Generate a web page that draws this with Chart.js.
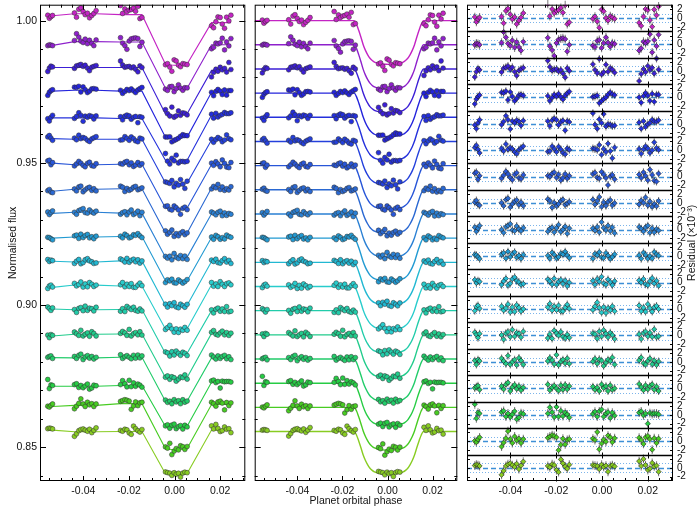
<!DOCTYPE html>
<html lang="en">
<head>
<meta charset="UTF-8">
<title>Spectroscopic transit light curves</title>
<script src="https://cdn.jsdelivr.net/npm/chart.js"></script>
<style>
  * { margin: 0; padding: 0; box-sizing: border-box; }
  body { background: #fff; width: 698px; height: 508px; position: relative; overflow: hidden; }
  canvas { position: absolute; top: 0; }
  #lcRaw { left: 0; }
  #lcFit { left: 250px; }
  #lcRes { left: 462px; }
</style>
</head>
<body>
<canvas id="lcRaw" width="250" height="508"></canvas>
<canvas id="lcFit" width="212" height="508"></canvas>
<canvas id="lcRes" width="236" height="508"></canvas>
<script>
// ---- data ----
// orbital phase of each exposure (5 HST orbits)
const phase = [
  -0.0556, -0.0549, -0.0542, -0.0535,
  -0.0439, -0.0430, -0.0420, -0.0411, -0.0401, -0.0392, -0.0382, -0.0373, -0.0363, -0.0354, -0.0344,
  -0.0237, -0.0228, -0.0218, -0.0209, -0.0199, -0.0190, -0.0180, -0.0171, -0.0161, -0.0152, -0.0143,
  -0.0040, -0.0031, -0.0021, -0.0012, -0.0002, 0.0007, 0.0017, 0.0026, 0.0036, 0.0045, 0.0055,
  0.0162, 0.0171, 0.0181, 0.0190, 0.0200, 0.0209, 0.0219, 0.0228, 0.0238, 0.0247
];
const orbitSizes = [4, 11, 11, 11, 10];

// light curve offsets (out-of-transit level of each wavelength bin)
const baseline = [1.0000, 0.9915, 0.9830, 0.9745, 0.9660, 0.9575, 0.9490, 0.9405, 0.9320,
                  0.9235, 0.9150, 0.9065, 0.8980, 0.8895, 0.8810, 0.8725, 0.8640, 0.8555];
// transit depth of each bin (x1e-3)
const depth = [15.4, 15.7, 15.4, 15.3, 15.2, 15.2, 15.3, 15.4, 15.2,
               15.1, 15.0, 15.1, 15.0, 15.1, 15.0, 15.0, 15.1, 15.0];
const lineColors = ['#c424c4', '#8e20cc', '#3c1fd6', '#2424dc', '#2430dc', '#2440dc', '#2856d8', '#2a68d2', '#2a80d4',
                    '#229ad2', '#22b8d2', '#28cccc', '#22ccaa', '#22cc8c', '#22cc6a', '#26cc44', '#48cc22', '#88cc22'];

// transit profile (fraction of depth)
const modelPhase = [-0.0590, -0.0148, -0.0138, -0.0128, -0.0118, -0.0108, -0.0098, -0.0088, -0.0078,
                    -0.0068, -0.0058, -0.0044, -0.0024, 0.0006, 0.0036, 0.0056, 0.0070, 0.0080,
                    0.0090, 0.0100, 0.0110, 0.0120, 0.0130, 0.0140, 0.0150, 0.0160, 0.0310];
const modelShape = [0, 0, 0.08, 0.22, 0.38, 0.55, 0.68, 0.78, 0.86,
                    0.91, 0.945, 0.97, 0.99, 1.0, 0.99, 0.97, 0.945, 0.91,
                    0.86, 0.78, 0.68, 0.55, 0.38, 0.22, 0.08, 0, 0];
// profile value at each exposure
const shapeAtData = [
  0, 0, 0, 0,
  0, 0, 0, 0, 0, 0, 0, 0, 0, 0, 0,
  0, 0, 0, 0, 0, 0, 0, 0, 0, 0, 0,
  0.975, 0.983, 0.990, 0.995, 0.999, 1.0, 0.998, 0.994, 0.988, 0.980, 0.972,
  0, 0, 0, 0, 0, 0, 0, 0, 0, 0
];

// instrument systematics per orbit for each bin (x1e-3), left panel
const orbitShift = [
  [1.7, 2.4, 2.1, -0.3, -0.7],
  [-0.2, 1.1, 1.0, 0.0, 0.0],
  [0.5, 0.5, 0.5, -0.8, -0.5],
  [0.7, 1.0, 0.7, -0.6, 0.3],
  [-0.2, -0.2, -0.4, -0.3, 0.8],
  [1.0, 0.8, 0.8, 0.2, 0.5],
  [0.9, 0.3, 0.5, 0.0, 0.4],
  [-0.5, 0.2, 0.4, -0.2, 0.6],
  [0.2, 0.6, 0.3, -0.4, 0.1],
  [0.0, 0.4, 0.6, -0.3, 0.2],
  [0.4, 0.1, 0.5, -0.5, 0.3],
  [-0.3, 0.5, 0.2, -0.2, 0.6],
  [0.6, 0.3, 0.4, -0.4, 0.0],
  [-0.4, 0.2, 0.3, -0.3, 0.5],
  [0.5, 0.4, 0.6, -0.2, 0.4],
  [-1.1, -1.1, -0.8, -0.6, 0.3],
  [0.3, 0.7, 1.3, 0.2, 1.0],
  [0.5, -0.1, 0.0, -0.2, 0.5]
];

// residuals (x1e-3), right panel
const resid = [
  [0.2, -0.9, -0.3, 0.1, 0.3, -1.2, 1.6, 2.1, 0.8, -0.3, 0.2, -1.4, -0.6, 0.1, 1.1, 3.2, 0.4, 2.0, 1.1, 1.6, 1.8, 2.3, 1.2, 2.9, -1.4, -1.0, -0.2, 0.3, -0.8, -2.2, 1.9, 1.5, 0.0, -0.6, 0.4, 0.1, -0.2, -1.1, -1.8, 0.3, 2.0, 1.8, -0.5, -2.0, 1.9, 0.6, 2.6],
  [-0.1, 0.2, 0.1, -0.1, 0.4, 2.8, 1.6, 0.2, -0.3, 0.9, -0.7, 0.5, -0.6, -1.4, 0.6, 1.5, -0.4, -1.3, -2.6, 0.3, 1.1, 1.3, 1.4, 1.2, -1.6, -0.1, -0.3, -0.6, 0.8, 1.0, -0.8, 0.3, 1.6, 0.4, -0.5, 0.3, 0.1, -1.4, -0.9, 0.6, 0.3, 0.7, 2.3, -1.8, 1.0, -0.4, 2.2],
  [-1.4, -0.2, 0.5, 0.2, -0.3, 0.6, 0.8, 1.1, 0.4, 0.8, -0.2, -1.1, 0.1, 0.4, 0.7, 2.3, 0.9, 0.1, 0.3, 0.4, -0.1, 0.2, -0.6, -1.5, 0.6, 0.0, 1.5, 0.2, -0.5, 2.7, -0.8, -0.3, 1.4, -0.2, 0.6, 0.3, -0.4, -2.3, -0.7, 0.4, -0.3, 1.1, 0.2, 0.7, -0.6, 2.8, 0.3],
  [-1.5, -0.4, 0.2, 0.5, 1.1, 1.0, 1.4, -0.6, 1.2, 0.2, -0.8, -0.3, 0.5, 0.6, 0.4, 0.3, -0.8, -0.1, 0.6, 0.2, 0.8, 0.1, -0.5, 0.4, 0.9, 1.3, 0.1, 0.2, 0.4, -1.3, -0.8, -0.4, 0.0, 0.6, 1.1, 0.7, 0.5, 0.0, -1.2, 0.3, 1.0, 0.4, -0.8, 0.8, -1.0, 0.6, 0.6],
  [-0.3, -1.1, 0.2, 0.9, -0.2, 0.5, 1.8, 0.9, -1.2, 0.6, 0.2, 0.8, 0.5, -0.4, 0.7, 0.6, -0.5, 0.8, 1.2, 0.9, -0.3, 0.4, 0.7, -1.5, 0.6, 0.4, 2.4, -0.2, -1.1, 1.0, 0.2, 2.2, -0.6, -0.1, -0.2, -0.5, -0.4, 0.3, -1.1, 0.6, -0.7, -0.1, 0.2, 0.9, 0.5, 0.5, 0.8],
  [0.6, 1.1, 0.2, -0.6, 0.4, -0.2, 1.4, 0.2, 0.6, 0.3, -0.4, -0.8, 0.1, 0.5, 0.9, -0.3, -0.2, 0.9, 0.3, -0.4, 0.8, 0.2, -0.6, -0.9, 0.4, 0.1, 0.4, 0.3, 0.1, 1.2, -1.0, 0.3, -0.4, 1.5, -0.2, -1.8, 0.6, 0.3, -0.8, 0.2, 0.9, 0.4, -0.6, 0.0, 1.8, 0.5, 0.1],
  [0.8, 1.0, -0.6, 0.2, -0.4, 0.3, 1.2, 0.6, -0.2, -0.7, 0.5, 0.9, -0.3, -0.5, 0.4, 0.2, 0.0, 0.7, 1.0, -0.2, 0.5, -0.8, -0.3, 0.6, -0.4, 0.2, 0.6, 0.9, -0.2, -0.4, 1.1, 0.5, -0.3, -1.9, 0.1, 0.4, -0.6, 0.5, -0.3, 1.0, 0.2, -0.8, 1.6, 0.4, -0.9, -1.1, 0.7],
  [0.2, 0.6, -0.3, -0.5, 0.1, -0.6, 0.8, 1.1, -0.9, -0.2, 0.4, 0.7, -0.4, 0.2, -0.6, 0.9, 0.5, -1.0, 0.1, -0.6, -0.2, 0.5, 0.8, -0.4, -0.1, 0.3, 0.8, -0.3, 0.5, 1.4, -0.8, 0.2, -0.6, 0.3, 0.7, -0.5, 0.0, -0.3, 0.6, 0.1, 1.3, -0.5, 0.4, -0.8, -0.2, -0.7, 0.5],
  [0.5, -0.4, 0.3, 0.9, 0.0, -0.7, 0.6, 0.9, 1.3, -0.1, -0.3, 0.8, 0.1, -0.3, 0.4, -0.4, 0.2, 0.5, -0.6, 0.4, 1.1, -0.5, 0.0, 0.7, -0.9, 0.3, 0.3, -0.2, 0.6, -0.6, 1.7, 0.4, -0.1, 0.9, -0.3, 0.5, -0.8, 0.6, 0.2, -0.4, 0.5, 0.9, -0.7, 0.3, -0.6, 0.1, -0.2],
  [0.3, 0.2, -0.2, -0.6, 0.4, 0.7, -0.5, 1.0, -0.2, 0.5, 0.9, -0.3, 0.1, -0.6, 0.3, 0.1, -0.5, 0.8, 0.3, -0.5, -0.2, 0.6, 0.4, 1.0, 0.2, -0.4, -0.6, 0.5, 0.2, 0.9, -0.3, -0.4, 0.7, 0.1, -0.6, -0.2, 0.4, 0.2, -0.6, 0.8, 0.3, -0.6, 0.0, -0.5, 0.9, 0.4, 0.1],
  [0.6, -0.1, 0.4, 0.2, -0.5, 0.3, 0.9, -0.6, -0.2, 0.8, 1.2, 0.4, 0.1, -0.5, -0.3, 0.7, 0.3, -0.4, 0.9, -0.5, 0.2, 0.6, -0.3, 0.4, -0.8, 0.0, 0.4, -0.5, 0.8, 0.2, 1.3, -0.2, -0.5, 0.7, 0.1, -0.6, 0.3, 0.5, 0.0, 0.8, -0.4, -0.6, 0.3, 1.0, -0.2, 0.4, -0.7],
  [-0.4, 0.5, 0.8, 0.1, 0.6, -0.3, 0.2, 1.1, -0.7, 0.4, -0.6, 0.9, 0.3, -0.5, 0.0, 0.4, 1.2, -0.3, 0.6, -0.2, 0.8, -0.5, -0.5, 0.3, 1.0, 0.1, -0.2, 0.6, 1.5, 0.3, -0.8, 0.4, -0.9, 0.2, -0.3, 0.6, -0.5, 0.8, -0.5, 0.3, -0.6, 1.1, 0.2, -0.6, 0.4, 0.7, 0.0],
  [0.7, 0.2, -0.5, 0.4, 0.1, -0.9, 0.5, 0.8, -0.3, 1.3, -0.2, 0.6, 0.4, -0.4, 0.9, -0.6, 0.3, -0.7, 1.1, 0.5, 0.0, 0.8, -0.3, -0.6, 0.2, -0.5, 0.5, 0.3, -0.7, 0.9, -0.2, 1.2, 0.4, -0.4, 0.6, 0.1, -0.8, 0.3, -0.8, 0.5, 0.9, -0.2, 0.6, -0.3, 1.4, -0.4, -0.2],
  [0.3, -0.6, 0.5, 0.2, 0.8, 0.2, -0.4, 1.4, -0.6, 0.0, 0.5, -0.7, 0.9, 0.3, -0.6, 0.2, 0.9, 0.4, -0.5, 1.6, -0.7, 0.1, 0.5, -0.3, 0.8, -0.4, 0.1, 0.7, -0.4, 0.6, 0.3, -0.9, -0.2, 0.5, 0.2, 1.0, -0.6, 0.4, 1.0, -0.3, -0.6, 0.2, 0.8, -0.5, 0.3, -0.7, 0.1],
  [0.1, 0.4, 0.6, -0.3, 0.5, -0.2, 0.9, 1.3, -0.6, 0.3, 0.8, -0.1, 0.5, -0.4, 0.2, 0.9, -0.4, 0.2, 0.6, 0.0, -0.5, 0.7, -0.3, 0.8, -0.2, 0.5, 0.4, -0.3, 0.2, -0.6, 0.9, 0.1, 0.5, -0.6, 0.7, -0.3, 0.0, 1.0, 0.3, -0.4, 0.7, -0.2, 0.5, 0.9, -0.3, 0.4, -0.6],
  [2.4, -0.8, 0.5, 0.3, 0.6, 0.9, -0.4, 0.3, -0.5, 0.1, 0.8, -1.0, -0.6, 0.4, 0.2, 0.3, 1.7, 0.6, -0.5, 1.8, -0.4, 0.9, -0.3, 0.5, 0.1, -0.6, 0.2, 0.7, -0.4, 0.8, 1.2, -0.4, 0.3, 0.6, -0.7, 0.5, -0.2, 0.5, 0.8, -0.1, 0.3, -2.0, 0.4, 0.2, 0.3, 0.3, 0.1],
  [0.1, -0.2, 0.4, 0.9, -1.2, -0.3, 0.7, 2.3, 0.5, -0.4, 1.1, 0.2, 0.6, -0.4, 0.5, 0.8, 1.1, 1.4, 1.2, 0.9, -2.0, -0.8, 0.6, -0.7, 0.3, 0.5, 0.6, 0.3, 2.1, -1.8, -0.5, 0.4, -0.1, 1.3, 0.9, -0.2, 0.7, 0.8, 0.3, -0.6, 0.9, 1.2, 0.5, -1.9, 0.7, -0.4, 0.6],
  [0.5, 0.7, 0.6, 0.4, -1.6, -0.7, 0.4, 0.8, 1.0, 0.6, 0.2, 0.9, -0.3, 0.5, 1.4, 0.4, 0.1, 0.8, 0.6, -0.5, -1.0, 1.9, 1.0, 0.3, -0.2, 0.7, 0.6, 0.5, 0.4, -0.3, 0.7, 0.2, 0.5, -0.9, 0.4, 0.6, 0.3, 1.5, 0.4, 2.0, 0.6, -0.5, -0.2, 1.1, 0.3, 0.5, -0.9]
];
// residual error bar (x1e-3) per bin
const residErr = [1.0, 1.0, 0.9, 0.9, 0.9, 0.9, 0.9, 0.9, 0.9, 0.9, 0.9, 0.9, 0.9, 0.9, 0.9, 1.0, 1.0, 1.0];

const fluxTicks = [0.85, 0.90, 0.95, 1.00];
const phaseTicks = [-0.04, -0.02, 0.00, 0.02];
const residTicks = [-2, 0, 2];

// ---- layout constants ----
const PHASE_MIN = -0.059, PHASE_MAX = 0.031;
const FLUX_MIN = 0.8381, FLUX_MAX = 1.0056;
const SPAN = 6;                  // residual units per sub-panel
const NBIN = baseline.length;
Chart.defaults.font.family = '"Liberation Sans", Arial, sans-serif';
Chart.defaults.font.size = 10.5;
Chart.defaults.color = '#111';

const orbitIdx = [];
orbitSizes.forEach((n, o) => { for (let i = 0; i < n; i++) orbitIdx.push(o); });

const rawSets = [], fitSets = [], resSets = [];
baseline.forEach((b, k) => {
  const col = lineColors[k];
  const model = phase.map((p, i) => b - depth[k] / 1000 * shapeAtData[i]);
  const detr = phase.map((p, i) => model[i] + resid[k][i] / 1000);
  const sys = phase.map((p, i) => orbitShift[k][orbitIdx[i]] / 1000);
  const pointStyle = {backgroundColor: col, borderColor: 'rgba(50,50,50,0.75)', borderWidth: 0.7,
                      pointRadius: 2.4, showLine: false, order: 0};
  rawSets.push({data: phase.map((p, i) => ({x: p, y: model[i] + sys[i]})), showLine: true,
                borderColor: col, borderWidth: 1.1, pointRadius: 0, order: 1});
  rawSets.push(Object.assign({data: phase.map((p, i) => ({x: p, y: detr[i] + sys[i]}))}, pointStyle));
  fitSets.push({data: modelPhase.map((p, j) => ({x: p, y: b - depth[k] / 1000 * modelShape[j]})),
                showLine: true, cubicInterpolationMode: 'monotone',
                borderColor: col, borderWidth: 1.4, pointRadius: 0, order: 1});
  fitSets.push(Object.assign({data: phase.map((p, i) => ({x: p, y: detr[i]}))}, pointStyle));
  resSets.push({data: phase.map((p, i) => ({x: p, y: (NBIN - 1 - k) * SPAN + resid[k][i]})),
                err: residErr[k], pointStyle: 'rectRot', pointRadius: 2.6,
                backgroundColor: col, borderColor: 'rgba(30,30,30,0.85)', borderWidth: 0.7, showLine: false});
});

// inward tick marks on the frame, as in the original plot
const frameTicks = {
  id: 'frameTicks',
  afterDatasetsDraw(chart, args, o) {
    const {ctx, chartArea: a, scales: {x, y}} = chart;
    ctx.save();
    ctx.strokeStyle = '#000';
    ctx.lineWidth = 1;
    ctx.beginPath();
    for (let n = Math.ceil(x.min / o.xStep - 1e-6); n * o.xStep <= x.max + 1e-9; n++) {
      const v = n * o.xStep;
      const major = Math.abs(v / o.xMajor - Math.round(v / o.xMajor)) < 1e-6;
      const px = Math.round(x.getPixelForValue(v)) + 0.5;
      const len = major ? 5 : 3;
      ctx.moveTo(px, a.bottom); ctx.lineTo(px, a.bottom - len);
      ctx.moveTo(px, a.top); ctx.lineTo(px, a.top + len);
    }
    if (o.yStep) {
      for (let n = Math.ceil(y.min / o.yStep - 1e-6); n * o.yStep <= y.max + 1e-9; n++) {
        const v = n * o.yStep;
        const major = Math.abs(v / o.yMajor - Math.round(v / o.yMajor)) < 1e-6;
        const py = Math.round(y.getPixelForValue(v)) + 0.5;
        const len = major ? 6 : 3;
        ctx.moveTo(a.left, py); ctx.lineTo(a.left + len, py);
        ctx.moveTo(a.right, py); ctx.lineTo(a.right - len, py);
      }
    }
    ctx.stroke();
    ctx.strokeRect(a.left + 0.5, a.top + 0.5, a.right - a.left - 1, a.bottom - a.top - 1);
    ctx.restore();
  }
};

// residual sub-panels: zero / +-1 guides, error bars, separators, right title
const residPanels = {
  id: 'residPanels',
  beforeDatasetsDraw(chart) {
    const {ctx, chartArea: a, scales: {x, y}} = chart;
    ctx.save();
    for (let k = 0; k < NBIN; k++) {
      const c = (NBIN - 1 - k) * SPAN;
      [[c, [5, 3], '#3d8fd6', 1.3], [c + 1, [1, 2], '#7cb4ea', 1], [c - 1, [1, 2], '#7cb4ea', 1]].forEach(g => {
        const py = Math.round(y.getPixelForValue(g[0])) + 0.5;
        ctx.setLineDash(g[1]); ctx.strokeStyle = g[2]; ctx.lineWidth = g[3];
        ctx.beginPath(); ctx.moveTo(a.left, py); ctx.lineTo(a.right, py); ctx.stroke();
      });
    }
    ctx.setLineDash([]);
    ctx.strokeStyle = 'rgba(90,90,90,0.75)';
    ctx.lineWidth = 1.1;
    ctx.beginPath();
    chart.data.datasets.forEach(ds => {
      ds.data.forEach(pt => {
        const px = x.getPixelForValue(pt.x);
        ctx.moveTo(px, y.getPixelForValue(pt.y - ds.err));
        ctx.lineTo(px, y.getPixelForValue(pt.y + ds.err));
      });
    });
    ctx.stroke();
    ctx.restore();
  },
  afterDatasetsDraw(chart) {
    const {ctx, chartArea: a, scales: {x, y}} = chart;
    ctx.save();
    ctx.strokeStyle = '#000';
    ctx.lineWidth = 1.4;
    ctx.beginPath();
    for (let k = 0; k < NBIN - 1; k++) {
      const py = Math.round(y.getPixelForValue((NBIN - 1 - k) * SPAN - SPAN / 2)) + 0.5;
      ctx.moveTo(a.left, py); ctx.lineTo(a.right, py);
    }
    ctx.stroke();
    ctx.lineWidth = 1;
    ctx.beginPath();
    for (let k = 0; k < NBIN; k++) {
      const c = (NBIN - 1 - k) * SPAN;
      const edge = Math.round(y.getPixelForValue(c - SPAN / 2)) + 0.5;
      phaseTicks.forEach(v => {
        const px = Math.round(x.getPixelForValue(v)) + 0.5;
        ctx.moveTo(px, edge - 3); ctx.lineTo(px, edge + (k === NBIN - 1 ? 0 : 3));
      });
      residTicks.forEach(v => {
        const py = Math.round(y.getPixelForValue(c + v)) + 0.5;
        ctx.moveTo(a.left, py); ctx.lineTo(a.left + 3, py);
        ctx.moveTo(a.right, py); ctx.lineTo(a.right - 3, py);
      });
    }
    ctx.stroke();
    ctx.restore();
  },
  afterDraw(chart) {
    const {ctx, chartArea: a} = chart;
    ctx.save();
    ctx.translate(a.right + 19.5, (a.top + a.bottom) / 2);
    ctx.rotate(-Math.PI / 2);
    ctx.fillStyle = '#111';
    ctx.font = '10.5px "Liberation Sans", Arial, sans-serif';
    ctx.textAlign = 'center';
    ctx.textBaseline = 'middle';
    ctx.fillText('Residual (\u00d710\u207b\u00b3)', 0, 0);
    ctx.restore();
  }
};

function noPad(s) { s.paddingTop = 0; s.paddingBottom = 0; s.paddingLeft = 0; s.paddingRight = 0; }

function phaseAxis(title) {
  return {
    type: 'linear', min: PHASE_MIN, max: PHASE_MAX,
    grid: {display: false, drawTicks: false}, border: {display: false},
    afterBuildTicks: s => { s.ticks = phaseTicks.map(v => ({value: v})); },
    afterFit: s => { s.height = 27; noPad(s); },
    ticks: {padding: 4, maxRotation: 0, autoSkip: false, callback: v => v.toFixed(2)},
    title: title ? {display: true, text: title, padding: {top: 0, bottom: 1}} : {display: false}
  };
}

function fluxAxis(show) {
  return {
    type: 'linear', min: FLUX_MIN, max: FLUX_MAX, display: show,
    grid: {display: false, drawTicks: false}, border: {display: false},
    afterBuildTicks: s => { s.ticks = fluxTicks.map(v => ({value: v})); },
    afterFit: s => { s.width = show ? 40 : 0; noPad(s); },
    ticks: {padding: 3, autoSkip: false, callback: v => v.toFixed(2)},
    title: {display: show, text: 'Normalised flux', padding: {top: 7, bottom: 0}}
  };
}

const common = {
  responsive: false,
  animation: false,
  events: [],
  plugins: {legend: {display: false}, tooltip: {enabled: false},
            frameTicks: {xStep: 0.005, xMajor: 0.02, yStep: 0.01, yMajor: 0.05}}
};

new Chart(document.getElementById('lcRaw'), {
  type: 'scatter',
  data: {datasets: rawSets},
  options: Object.assign({}, common, {
    layout: {padding: {top: 2, right: 3, bottom: 0, left: 0}},
    scales: {x: phaseAxis(null), y: fluxAxis(true)}
  }),
  plugins: [frameTicks]
});

new Chart(document.getElementById('lcFit'), {
  type: 'scatter',
  data: {datasets: fitSets},
  options: Object.assign({}, common, {
    layout: {padding: {top: 2, right: 2, bottom: 0, left: 2}},
    scales: {x: phaseAxis('Planet orbital phase'), y: fluxAxis(false)}
  }),
  plugins: [frameTicks]
});

new Chart(document.getElementById('lcRes'), {
  type: 'scatter',
  data: {datasets: resSets},
  options: Object.assign({}, common, {
    layout: {padding: {top: 2, right: 0, bottom: 0, left: 5}},
    plugins: {legend: {display: false}, tooltip: {enabled: false},
              frameTicks: {xStep: 0.005, xMajor: 0.02, yStep: 0}},
    scales: {
      x: phaseAxis(null),
      y: {
        type: 'linear', position: 'right', min: -SPAN / 2, max: (NBIN - 0.5) * SPAN,
        grid: {display: false, drawTicks: false}, border: {display: false},
        afterBuildTicks: s => {
          const t = [];
          for (let k = 0; k < NBIN; k++) residTicks.forEach(v => t.push({value: k * SPAN + v}));
          s.ticks = t;
        },
        afterFit: s => { s.width = 25; noPad(s); },
        ticks: {padding: 4, autoSkip: false, font: {size: 10},
                callback: v => String(Math.round(v - Math.round(v / SPAN) * SPAN))}
      }
    }
  }),
  plugins: [residPanels, frameTicks]
});
</script>
</body>
</html>
